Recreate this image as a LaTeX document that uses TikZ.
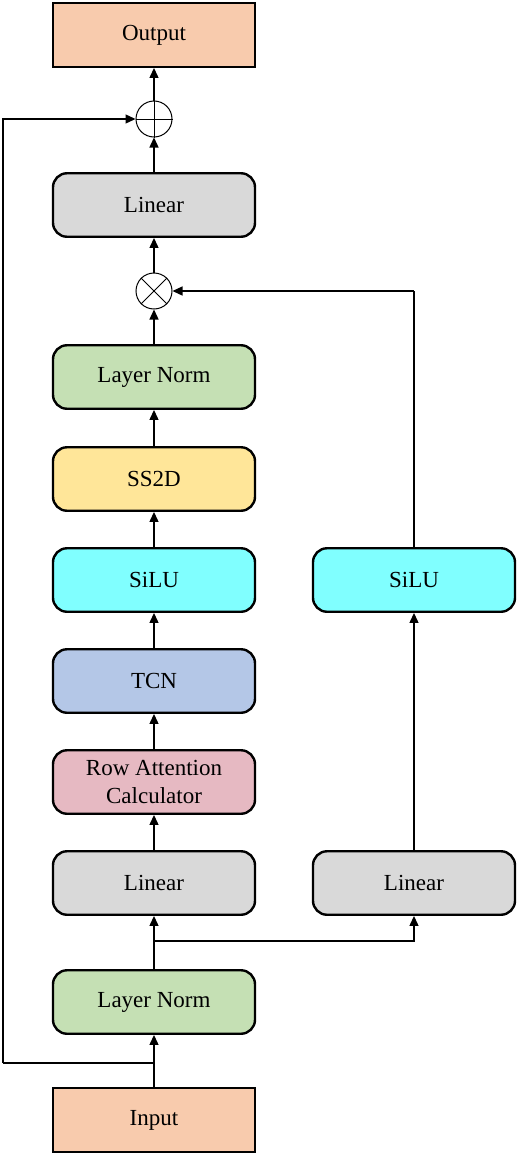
\documentclass[tikz,border=0pt]{standalone}
\usepackage{fontspec}
\setmainfont{Liberation Serif}
\newfontfamily\tnr{Liberation Serif}
\usetikzlibrary{arrows.meta,shapes.misc}
\definecolor{cio}{RGB}{248,203,173}
\definecolor{clin}{RGB}{217,217,217}
\definecolor{cln}{RGB}{197,224,180}
\definecolor{css}{RGB}{255,230,153}
\definecolor{csilu}{RGB}{128,255,255}
\definecolor{ctcn}{RGB}{180,199,231}
\definecolor{crow}{RGB}{230,185,194}
\begin{document}
\begin{tikzpicture}[x=1pt,y=-1pt,
  blk/.style={draw=black,line width=2.4pt,rounded corners=14pt,minimum width=202pt,minimum height=63.5pt,inner sep=0pt,align=center,font=\tnr\fontsize{23}{28}\selectfont},
  iobox/.style={blk,rounded corners=0pt},
  opc/.style={draw=black,line width=1pt,circle,minimum size=36pt,inner sep=0pt},
  arr/.style={line width=1.3pt,-{Triangle[length=10pt,width=9pt]}},
  ln/.style={line width=1.3pt}]
\useasboundingbox (0,0) rectangle (517,1156);
\node[iobox,fill=cio] (out) at (154,35) {Output};
\node[opc] (plus) at (154,119) {};
\draw[line width=1pt] (plus.north) -- (plus.south) (plus.west) -- (plus.east);
\node[blk,fill=clin] (lin3) at (154,205) {Linear};
\node[opc] (times) at (154,291) {};
\draw[line width=1pt] (times.north west) -- (times.south east) (times.north east) -- (times.south west);
\node[blk,fill=cln] (ln2) at (154,377) {Layer Norm};
\node[blk,fill=css] (ss) at (154,479) {SS2D};
\node[blk,fill=csilu] (silu1) at (154,580) {SiLU};
\node[blk,fill=csilu] (silu2) at (414,580) {SiLU};
\node[blk,fill=ctcn] (tcn) at (154,681) {TCN};
\node[blk,fill=crow] (row) at (154,782) {Row Attention\\Calculator};
\node[blk,fill=clin] (lin1) at (154,883) {Linear};
\node[blk,fill=clin] (lin2) at (414,883) {Linear};
\node[blk,fill=cln] (ln1) at (154,1002) {Layer Norm};
\node[iobox,fill=cio] (in) at (154,1120) {Input};
\coordinate (jskip) at (154,1063);
\coordinate (jbr) at (154,941);
\coordinate (cl) at (3,1063);
\coordinate (cr) at (414,291);
\draw[arr] (in) -- (ln1);
\draw[arr] (ln1) -- (lin1);
\draw[arr] (jbr) -| (lin2);
\draw[ln] (jskip) -- (cl);
\draw[arr] (cl) |- (plus);
\draw[arr] (lin1) -- (row);
\draw[arr] (row) -- (tcn);
\draw[arr] (tcn) -- (silu1);
\draw[arr] (silu1) -- (ss);
\draw[arr] (ss) -- (ln2);
\draw[arr] (ln2) -- (times);
\draw[arr] (lin2) -- (silu2);
\draw[ln] (silu2) -- (cr);
\draw[arr] (cr) -- (times);
\draw[arr] (times) -- (lin3);
\draw[arr] (lin3) -- (plus);
\draw[arr] (plus) -- (out);
\end{tikzpicture}
\end{document}
